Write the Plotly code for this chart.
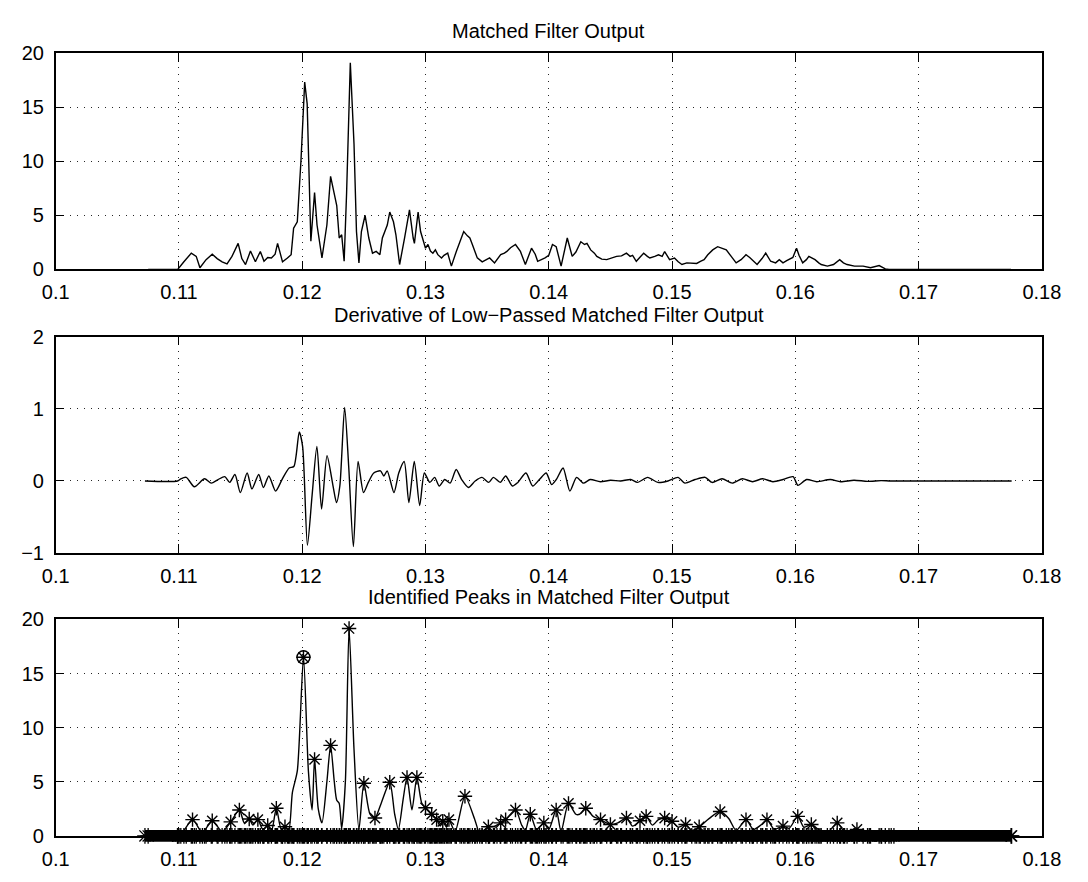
import plotly.graph_objects as go

# ---- Matched filter output (top panel) ----
mf_t = [0.1075, 0.1099, 0.1104, 0.1110, 0.1114, 0.1117, 0.1122, 0.1127, 0.1131, 0.1135,
        0.1139, 0.1143, 0.1148, 0.1151, 0.1154, 0.1158, 0.1162, 0.1166, 0.1169, 0.1172,
        0.1175, 0.1178, 0.1180, 0.1184, 0.1188, 0.1191, 0.1193, 0.1196, 0.1199, 0.1202,
        0.1204, 0.1207, 0.1210, 0.1212, 0.1216, 0.1220, 0.1223, 0.1226, 0.1228, 0.1230,
        0.1232, 0.1234, 0.1236, 0.1239, 0.1242, 0.1244, 0.1246, 0.1248, 0.1251, 0.1254,
        0.1257, 0.1260, 0.1263, 0.1265, 0.1269, 0.1271, 0.1274, 0.1276, 0.1279, 0.1283,
        0.1287, 0.1290, 0.1291, 0.1294, 0.1296, 0.1300, 0.1302, 0.1304, 0.1306, 0.1308,
        0.1310, 0.1313, 0.1315, 0.1318, 0.1321, 0.1325, 0.1328, 0.1331, 0.1334, 0.1336,
        0.1338, 0.1342, 0.1346, 0.1349, 0.1352, 0.1356, 0.1358, 0.1361, 0.1364, 0.1366,
        0.1369, 0.1373, 0.1377, 0.1381, 0.1386, 0.1389, 0.1391, 0.1394, 0.1397, 0.1400,
        0.1403, 0.1406, 0.1410, 0.1415, 0.1419, 0.1422, 0.1426, 0.1429, 0.1431, 0.1434,
        0.1437, 0.1439, 0.1443, 0.1447, 0.1451, 0.1455, 0.1459, 0.1463, 0.1466, 0.1468,
        0.1471, 0.1474, 0.1477, 0.1480, 0.1482, 0.1486, 0.1489, 0.1492, 0.1494, 0.1498,
        0.1502, 0.1505, 0.1508, 0.1512, 0.1516, 0.1520, 0.1523, 0.1526, 0.1529, 0.1533,
        0.1537, 0.1540, 0.1544, 0.1548, 0.1552, 0.1556, 0.1560, 0.1563, 0.1565, 0.1569,
        0.1573, 0.1576, 0.1580, 0.1584, 0.1587, 0.1590, 0.1593, 0.1595, 0.1598, 0.1601,
        0.1603, 0.1606, 0.1609, 0.1611, 0.1614, 0.1616, 0.1619, 0.1621, 0.1626, 0.1631,
        0.1636, 0.1639, 0.1642, 0.1648, 0.1655, 0.1661, 0.1668, 0.1673, 0.1676, 0.1775]
mf_out = [0, 0, 0.7, 1.5, 1.2, 0.15, 0.9, 1.4, 1.0, 0.7,
          0.5, 1.2, 2.4, 1.0, 0.45, 1.7, 0.7, 1.66, 0.75, 1.1,
          1.05, 1.4, 2.4, 0.7, 1.05, 1.36, 3.8, 4.4, 10.1, 17.3,
          15.3, 2.6, 7.1, 4.1, 1.06, 4.1, 8.6, 7.0, 5.9, 2.9,
          3.2, 0.75, 7.1, 19.1, 11.6, 3.5, 0.6, 3.5, 5.0, 2.9,
          1.5, 1.66, 1.36, 2.9, 4.1, 5.3, 4.4, 3.2, 0.45, 2.9,
          5.5, 2.9, 2.4, 5.3, 3.5, 1.96, 2.3, 1.7, 1.5, 1.8,
          1.36, 1.06, 1.3, 1.5, 0.3, 1.66, 2.6, 3.5, 3.1, 2.9,
          2.3, 1.06, 0.7, 0.9, 1.06, 0.6, 0.9, 1.36, 1.5, 1.66,
          2.0, 2.3, 1.66, 0.45, 1.96, 1.4, 0.75, 0.9, 1.06, 1.3,
          2.3, 2.1, 0.3, 2.9, 1.2, 1.6, 2.55, 2.3, 2.4, 1.8,
          1.5, 1.2, 0.95, 0.9, 1.05, 1.2, 1.25, 1.5, 1.2, 1.3,
          0.75, 1.1, 1.5, 1.2, 1.05, 1.2, 1.35, 1.2, 1.65, 0.9,
          1.05, 0.7, 0.45, 0.6, 0.6, 0.55, 0.75, 0.9, 1.35, 1.8,
          2.1, 1.95, 1.8, 1.2, 0.6, 0.9, 1.35, 1.1, 0.9, 0.45,
          1.0, 1.5, 0.75, 0.6, 0.9, 0.6, 0.8, 0.9, 1.1, 1.95,
          1.3, 0.6, 0.9, 1.2, 1.0, 0.9, 0.6, 0.45, 0.3, 0.45,
          0.9, 0.6, 0.45, 0.3, 0.3, 0.15, 0.35, 0.05, 0, 0]

# ---- Derivative of the low-passed output (middle panel) ----
der_t = [0.10724, 0.10988, 0.11015, 0.11059, 0.11125, 0.11207, 0.11262, 0.11317, 0.11372, 0.11411,
         0.11454, 0.11498, 0.11553, 0.11592, 0.11647, 0.11685, 0.11729, 0.11784, 0.11839, 0.11894,
         0.11932, 0.11976, 0.12003, 0.12042, 0.12080, 0.12119, 0.12157, 0.12201, 0.12250, 0.12278,
         0.12305, 0.12344, 0.12377, 0.12415, 0.12453, 0.12497, 0.12536, 0.12580, 0.12635, 0.12662,
         0.12689, 0.12744, 0.12783, 0.12827, 0.12865, 0.12909, 0.12953, 0.12991, 0.13035, 0.13074,
         0.13112, 0.13156, 0.13200, 0.13249, 0.13293, 0.13348, 0.13403, 0.13458, 0.13513, 0.13551,
         0.13606, 0.13650, 0.13705, 0.13749, 0.13815, 0.13869, 0.13924, 0.13979, 0.14023, 0.14061,
         0.14116, 0.14171, 0.14226, 0.14281, 0.14336, 0.14418, 0.14501, 0.14583, 0.14665, 0.14720,
         0.14802, 0.14885, 0.14967, 0.15049, 0.15104, 0.15187, 0.15269, 0.15324, 0.15406, 0.15488,
         0.15571, 0.15653, 0.15735, 0.15818, 0.15900, 0.15982, 0.16021, 0.16092, 0.16175, 0.16284,
         0.16367, 0.16476, 0.16586, 0.16696, 0.16778, 0.17755]
der_val = [0, 0, 0.03, 0.05, -0.08, 0.03, -0.03, 0.02, 0.06, -0.02,
           0.09, -0.16, 0.11, -0.11, 0.09, -0.09, 0.07, -0.14, 0.03, 0.18,
           0.20, 0.68, 0.48, -0.89, -0.20, 0.48, -0.39, 0.35, -0.07, -0.30,
           -0.07, 1.02, 0.20, -0.91, 0.27, -0.16, -0.02, 0.11, 0.14, 0.07,
           0.14, -0.16, 0.11, 0.27, -0.30, 0.27, -0.34, 0.11, -0.02, 0.05,
           -0.07, 0.02, -0.03, 0.16, 0.02, -0.09, 0.00, 0.05, -0.02, 0.05,
           -0.02, 0.07, -0.07, -0.02, 0.11, -0.07, 0.02, 0.11, -0.05, 0.02,
           0.18, -0.14, 0.05, -0.03, 0.02, -0.01, 0.01, 0.00, 0.02, -0.02,
           0.05, -0.02, 0.00, 0.05, -0.03, 0.02, 0.05, -0.02, 0.03, -0.03,
           0.03, -0.01, 0.03, -0.01, 0.02, 0.06, -0.06, 0.02, -0.01, 0.02,
           -0.01, 0.01, -0.005, 0.005, 0, 0]

# ---- Smoothed output with identified peaks (bottom panel) ----
lp_t = [0.1075, 0.1100, 0.1111, 0.1119, 0.1127, 0.1135, 0.1142, 0.1149, 0.1153, 0.1157,
        0.1160, 0.1164, 0.1168, 0.1172, 0.1175, 0.1179, 0.1183, 0.1186, 0.1189, 0.1192,
        0.1196, 0.1201, 0.1205, 0.1208, 0.1210, 0.1213, 0.1216, 0.1220, 0.1223, 0.1226,
        0.1228, 0.1230, 0.1232, 0.1235, 0.1238, 0.1242, 0.1246, 0.1250, 0.1255, 0.1259,
        0.1264, 0.1271, 0.1275, 0.1278, 0.1282, 0.1285, 0.1289, 0.1293, 0.1297, 0.1300,
        0.1305, 0.1309, 0.1312, 0.1314, 0.1317, 0.1319, 0.1324, 0.1332, 0.1340, 0.1344,
        0.1351, 0.1356, 0.1361, 0.1365, 0.1373, 0.1378, 0.1381, 0.1385, 0.1390, 0.1396,
        0.1400, 0.1406, 0.1410, 0.1416, 0.1422, 0.1425, 0.1430, 0.1436, 0.1442, 0.1450,
        0.1456, 0.1463, 0.1468, 0.1474, 0.1479, 0.1484, 0.1489, 0.1494, 0.1500, 0.1505,
        0.1511, 0.1516, 0.1522, 0.1530, 0.1539, 0.1546, 0.1552, 0.1560, 0.1566, 0.1572,
        0.1577, 0.1583, 0.1590, 0.1595, 0.1602, 0.1607, 0.1613, 0.1620, 0.1626, 0.1634,
        0.1640, 0.1650, 0.1660, 0.1670, 0.1680, 0.1775]
lp_out = [0, 0, 1.5, 0.3, 1.4, 0.4, 1.3, 2.4, 1.2, 1.56,
          1.0, 1.5, 0.6, 0.96, 0.4, 2.56, 0.6, 0.84, 0.5, 4.0,
          6.0, 16.5, 6.0, 2.4, 7.07, 2.5, 1.2, 5.0, 8.36, 5.0,
          3.3, 3.0, 0.7, 5.0, 19.16, 8.0, 0.6, 4.87, 2.0, 1.65,
          3.0, 4.96, 2.0, 0.6, 3.5, 5.41, 2.4, 5.41, 3.0, 2.6,
          2.0, 1.5, 0.9, 1.35, 0.8, 1.5, 0.4, 3.67, 1.5, 0.3,
          0.84, 0.9, 1.2, 1.5, 2.4, 1.0, 0.5, 2.0, 0.6, 1.2,
          0.6, 2.4, 0.4, 3.0, 2.0, 2.0, 2.55, 1.8, 1.5, 1.05,
          1.2, 1.65, 0.9, 1.4, 1.8, 1.0, 1.5, 1.65, 1.35, 0.8,
          1.05, 0.5, 0.84, 1.6, 2.25, 1.6, 0.5, 1.5, 0.6, 1.0,
          1.5, 0.6, 0.9, 0.7, 1.8, 0.8, 1.05, 0.5, 0.3, 1.2,
          0.4, 0.6, 0.2, 0.1, 0, 0]

peak_t = [0.1111, 0.1127, 0.1142, 0.1149, 0.1157, 0.1164, 0.1172, 0.1179, 0.1186, 0.1201,
          0.1210, 0.1223, 0.1238, 0.1250, 0.1259, 0.1271, 0.1285, 0.1293, 0.1300, 0.1305,
          0.1309, 0.1314, 0.1319, 0.1332, 0.1351, 0.1361, 0.1365, 0.1373, 0.1385, 0.1396,
          0.1406, 0.1416, 0.1430, 0.1442, 0.1450, 0.1463, 0.1474, 0.1479, 0.1494, 0.1500,
          0.1511, 0.1522, 0.1539, 0.1560, 0.1577, 0.1590, 0.1602, 0.1613, 0.1634, 0.1650]
peak_val = [1.5, 1.4, 1.3, 2.4, 1.56, 1.5, 0.96, 2.56, 0.84, 16.5,
            7.07, 8.36, 19.16, 4.87, 1.65, 4.96, 5.41, 5.41, 2.6, 2.0,
            1.5, 1.35, 1.5, 3.67, 0.84, 1.2, 1.5, 2.4, 2.0, 1.2,
            2.4, 3.0, 2.55, 1.5, 1.05, 1.65, 1.4, 1.8, 1.65, 1.35,
            1.05, 0.84, 2.25, 1.5, 1.5, 0.9, 1.8, 1.05, 1.2, 0.6]

# first detected arrival, ringed
first_t = [0.1201]
first_val = [16.5]

# tick labels
x_ticks = [0.1, 0.11, 0.12, 0.13, 0.14, 0.15, 0.16, 0.17, 0.18]
x_ticktext = ["0.1", "0.11", "0.12", "0.13", "0.14", "0.15", "0.16", "0.17", "0.18"]
mf_ticks = [0, 5, 10, 15, 20]
der_ticks = [-1, 0, 1, 2]
der_ticktext = ["\u22121", "0", "1", "2"]

titles = ["Matched Filter Output",
          "Derivative of Low\u2212Passed Matched Filter Output",
          "Identified Peaks in Matched Filter Output"]

FONT = "Liberation Sans, Arial, Helvetica, sans-serif"
W, H = 1088, 882
x_dom = [43 / W, 1060 / W]
panels = [(43, 265), (334, 556), (624, 846)]
title_y = [20, 312, 601]
BAND_HALF = 6  # half height (px) of the starred baseline band

fig = go.Figure()
line_style = dict(color="black", width=1.4)
smooth_style = dict(color="black", width=1.4, shape="spline", smoothing=0.7)
star = dict(symbol="asterisk-open", color="black")

fig.add_trace(go.Scatter(x=mf_t, y=mf_out, mode="lines", line=line_style,
                         xaxis="x", yaxis="y", showlegend=False))
fig.add_trace(go.Scatter(x=der_t, y=der_val, mode="lines", line=smooth_style,
                         xaxis="x2", yaxis="y2", showlegend=False))

# every zero sample is starred too, forming a dense band on the baseline
band_t = sorted(set(der_t + lp_t + mf_t))
band_t = [t for t in band_t if der_t[0] <= t <= der_t[-1]]
fig.add_trace(go.Scatter(x=band_t, y=[0] * len(band_t), mode="markers",
                         marker=dict(star, size=13, line=dict(color="black", width=1.3)),
                         cliponaxis=False,
                         xaxis="x3", yaxis="y3", showlegend=False))
fig.add_trace(go.Scatter(x=lp_t, y=lp_out, mode="lines", line=smooth_style,
                         xaxis="x3", yaxis="y3", showlegend=False))
fig.add_trace(go.Scatter(x=peak_t, y=peak_val, mode="markers",
                         marker=dict(star, size=12, line=dict(color="black", width=1.4)),
                         cliponaxis=False,
                         xaxis="x3", yaxis="y3", showlegend=False))
fig.add_trace(go.Scatter(x=first_t, y=first_val, mode="markers",
                         marker=dict(symbol="circle-open", color="black", size=13,
                                     line=dict(color="black", width=1.4)),
                         xaxis="x3", yaxis="y3", showlegend=False))

# solid core of the starred band (straddles the baseline)
base_px = panels[2][1]
fig.add_shape(type="rect", xref="x3", yref="paper",
              x0=der_t[0], x1=der_t[-1],
              y0=1 - (base_px + BAND_HALF) / H, y1=1 - (base_px - BAND_HALF) / H,
              fillcolor="black", line=dict(width=0), layer="above")

axis_common = dict(
    showline=True, linecolor="black", linewidth=1.5, mirror="ticks",
    ticks="inside", ticklen=9, tickwidth=1.3, tickcolor="black",
    showgrid=True, gridcolor="rgba(0,0,0,0.85)", gridwidth=1, griddash="1px,6px",
    zeroline=False,
    tickfont=dict(family=FONT, size=20, color="black"),
)

layout = dict(
    width=W, height=H,
    margin=dict(l=0, r=0, t=0, b=0),
    paper_bgcolor="white", plot_bgcolor="white",
    showlegend=False,
)

for i, (top, bot) in enumerate(panels):
    sfx = "" if i == 0 else str(i + 1)
    ydom = [1 - bot / H, 1 - top / H]
    layout["xaxis" + sfx] = dict(axis_common, domain=x_dom, range=[0.1, 0.18],
                                 tickvals=x_ticks, ticktext=x_ticktext,
                                 anchor="y" + sfx, ticklabelstandoff=4)
    if i == 1:
        yax = dict(axis_common, range=[-1, 2], tickvals=der_ticks, ticktext=der_ticktext)
    else:
        yax = dict(axis_common, range=[0, 20], tickvals=mf_ticks)
    layout["yaxis" + sfx] = dict(yax, domain=ydom, anchor="x" + sfx, ticklabelstandoff=6)

fig.update_layout(**layout)

for txt, ty in zip(titles, title_y):
    fig.add_annotation(text=txt, x=(x_dom[0] + x_dom[1]) / 2, y=1 - ty / H,
                       xref="paper", yref="paper", xanchor="center", yanchor="middle",
                       showarrow=False, font=dict(family=FONT, size=20, color="black"))

fig.write_html("out.html")
